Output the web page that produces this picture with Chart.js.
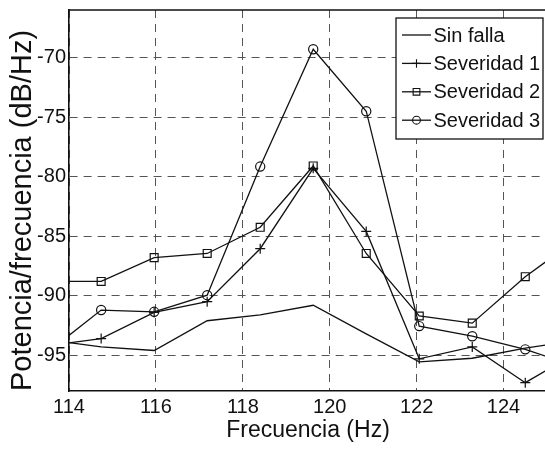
<!DOCTYPE html>
<html>
<head>
<meta charset="utf-8">
<script src="https://cdn.jsdelivr.net/npm/chart.js"></script>
<style>
  html, body { margin: 0; padding: 0; overflow: hidden; background: #fff; }
  #wrap { width: 560px; height: 449px; }
</style>
</head>
<body>
<div id="wrap"><canvas id="psd"></canvas></div>
<script>
// frecuencias de las muestras (Hz)
const freq = [113.52, 114.74, 115.96, 117.18, 118.40, 119.62, 120.84, 122.06, 123.28, 124.50, 125.72];

// potencia/frecuencia (dB/Hz)
const sinFalla   = [-93.7, -94.3, -94.6, -92.1, -91.6, -90.8, -93.2, -95.55, -95.25, -94.4, -93.75];
const severidad1 = [-94.2, -93.6, -91.4, -90.5, -86.05, -79.3, -84.6, -95.3, -94.3, -97.3, -94.7];
const severidad2 = [-88.8, -88.8, -86.8, -86.45, -84.25, -79.1, -86.45, -91.7, -92.3, -88.4, -85.15];
const severidad3 = [-94.7, -91.2, -91.35, -89.95, -79.15, -69.3, -74.5, -92.55, -93.4, -94.5, -96.0];

const seriesNames = ["Sin falla", "Severidad 1", "Severidad 2", "Severidad 3"];
const xTicks = { min: 114, max: 125, step: 2 };
const yTicks = { min: -98, max: -66, step: 5 };

const FONT = '"Liberation Sans", Arial, Helvetica, sans-serif';
const INK = "#111";

function toPoints(values) {
  return freq.map((f, i) => ({ x: f, y: values[i] }));
}

function serie(label, values, style, radius) {
  return {
    label,
    data: toPoints(values),
    showLine: true,
    borderColor: INK,
    borderWidth: 1.3,
    pointStyle: style,
    pointRadius: radius,
    pointHoverRadius: radius,
    pointBorderColor: INK,
    pointBorderWidth: 1.2,
    pointBackgroundColor: "rgba(0,0,0,0)",
    tension: 0
  };
}

function drawMarker(ctx, style, x, y, r) {
  if (!r) return;
  ctx.beginPath();
  if (style === "cross") {
    ctx.moveTo(x - r, y); ctx.lineTo(x + r, y);
    ctx.moveTo(x, y - r); ctx.lineTo(x, y + r);
  } else if (style === "rect") {
    const s = Math.SQRT1_2 * r;
    ctx.rect(x - s, y - s, 2 * s, 2 * s);
  } else if (style === "circle") {
    ctx.arc(x, y, r, 0, Math.PI * 2);
  }
  ctx.stroke();
}

// marco superior y leyenda dentro del area
const marcoYLeyenda = {
  id: "marcoYLeyenda",
  afterDatasetsDraw(chart) {
    const { ctx, chartArea } = chart;
    ctx.save();
    ctx.strokeStyle = INK;
    ctx.lineWidth = 1.5;
    ctx.beginPath();
    ctx.moveTo(chartArea.left, chartArea.top);
    ctx.lineTo(chartArea.right, chartArea.top);
    ctx.stroke();

    const w = 147, h = 121;
    const x0 = chartArea.right - 4 - w;
    const y0 = chartArea.top + 8;
    ctx.fillStyle = "#fff";
    ctx.fillRect(x0, y0, w, h);
    ctx.lineWidth = 1.3;
    ctx.strokeRect(x0, y0, w, h);

    ctx.font = "20px " + FONT;
    ctx.textBaseline = "middle";
    ctx.fillStyle = INK;
    chart.data.datasets.forEach((ds, i) => {
      const y = y0 + 17 + i * 28.4;
      ctx.lineWidth = 1.3;
      ctx.beginPath();
      ctx.moveTo(x0 + 6, y);
      ctx.lineTo(x0 + 35, y);
      ctx.stroke();
      ctx.lineWidth = 1.1;
      drawMarker(ctx, ds.pointStyle, x0 + 20.5, y, ds.pointRadius * 0.85);
      ctx.fillText(ds.label, x0 + 37.5, y + 1);
    });
    ctx.restore();
  }
};

const ctx = document.getElementById("psd").getContext("2d");

new Chart(ctx, {
  type: "scatter",
  data: {
    datasets: [
      serie(seriesNames[0], sinFalla, "circle", 0),
      serie(seriesNames[1], severidad1, "cross", 5),
      serie(seriesNames[2], severidad2, "rect", 5.6),
      serie(seriesNames[3], severidad3, "circle", 4.6)
    ]
  },
  options: {
    responsive: true,
    maintainAspectRatio: false,
    animation: false,
    layout: { padding: { top: 10, right: 13, left: 0, bottom: 0 } },
    plugins: {
      legend: { display: false },
      tooltip: { enabled: false }
    },
    scales: {
      x: {
        type: "linear",
        min: xTicks.min,
        max: xTicks.max,
        afterFit: (s) => { s.height = 58; s.paddingLeft = 0; s.paddingRight = 0; },
        ticks: {
          stepSize: xTicks.step,
          includeBounds: false,
          padding: 4,
          color: INK,
          maxRotation: 0,
          font: { family: FONT, size: 20, lineHeight: 1.2 }
        },
        grid: { color: "#555", lineWidth: 1, drawTicks: false },
        border: { display: true, color: INK, width: 1.6, dash: [8, 6] },
        title: {
          display: true,
          text: "Frecuencia (Hz)",
          color: INK,
          padding: { top: 0, bottom: 6.5 },
          font: { family: FONT, size: 23, lineHeight: 1 }
        }
      },
      y: {
        type: "linear",
        min: yTicks.min,
        max: yTicks.max,
        afterFit: (s) => { s.width = 69; s.paddingTop = 0; s.paddingBottom = 0; },
        ticks: {
          stepSize: yTicks.step,
          includeBounds: false,
          padding: 3,
          color: INK,
          font: { family: FONT, size: 20, lineHeight: 1.2 }
        },
        grid: { color: "#555", lineWidth: 1, drawTicks: false },
        border: { display: true, color: INK, width: 1.6, dash: [8, 6] },
        title: {
          display: true,
          text: "Potencia/frecuencia (dB/Hz)",
          align: "start",
          color: INK,
          padding: { top: 8, bottom: 0 },
          font: { family: FONT, size: 29, lineHeight: 1 }
        }
      }
    }
  },
  plugins: [marcoYLeyenda]
});
</script>
</body>
</html>
